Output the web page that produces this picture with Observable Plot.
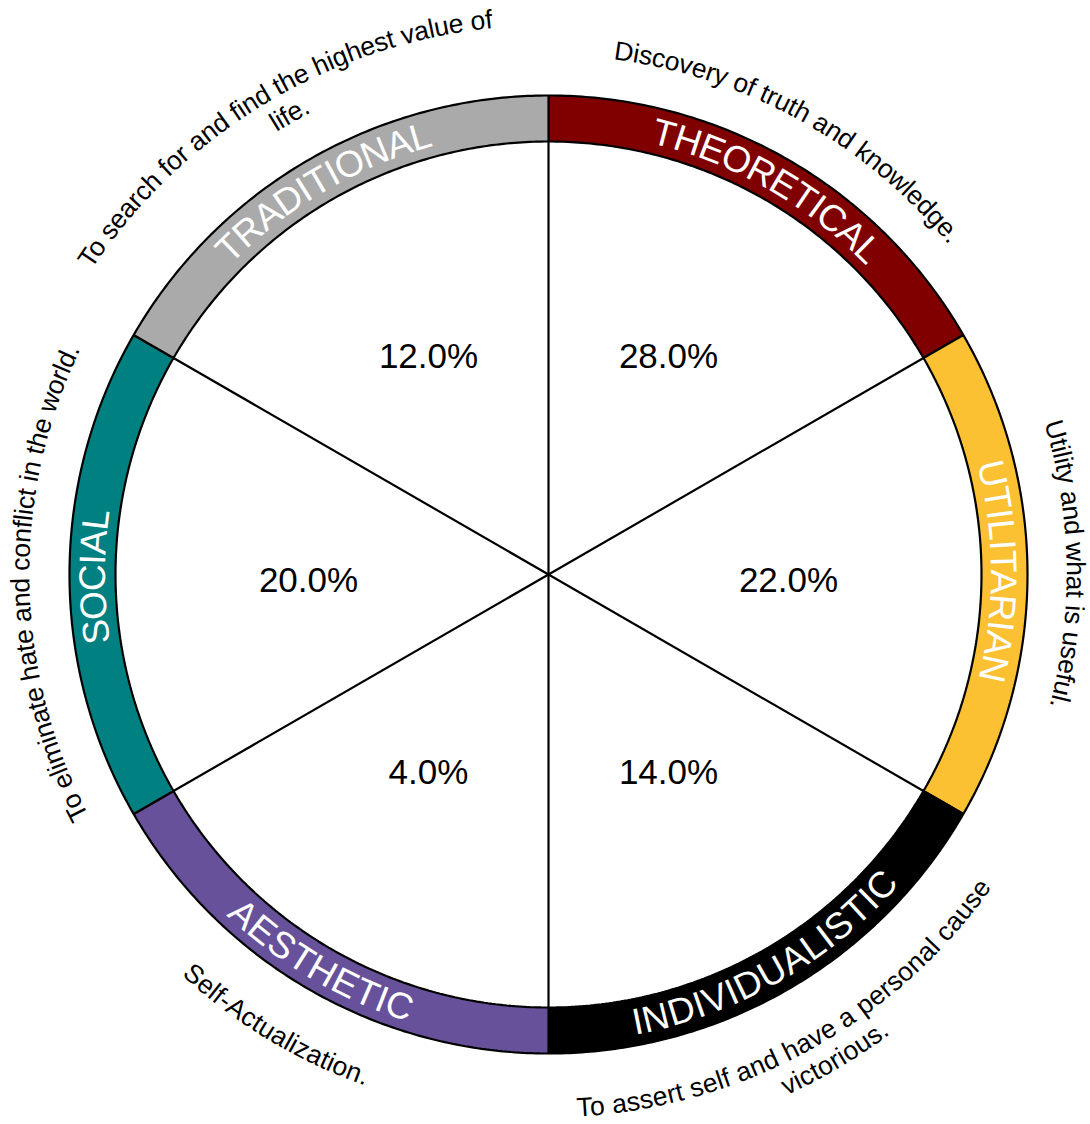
<!DOCTYPE html>
<html>
<head>
<meta charset="utf-8">
<script src="https://cdn.jsdelivr.net/npm/d3@7"></script>
<script src="https://cdn.jsdelivr.net/npm/@observablehq/plot@0.6"></script>
<style>
  body { margin: 0; background: #ffffff; }
  #chart svg { display: block; }
</style>
</head>
<body>
<div id="chart"></div>
<script>
// ---- data ----
const categories = ["THEORETICAL", "UTILITARIAN", "INDIVIDUALISTIC", "AESTHETIC", "SOCIAL", "TRADITIONAL"];
const percents = [28.0, 22.0, 14.0, 4.0, 20.0, 12.0];
const colors = ["#800000", "#fbc133", "#000000", "#67519a", "#008080", "#aaaaaa"];
const descriptions = [
  ["Discovery of truth and knowledge."],
  ["Utility and what is useful."],
  ["To assert self and have a personal cause", "victorious."],
  ["Self-Actualization."],
  ["To eliminate hate and conflict in the world."],
  ["To search for and find the highest value of", "life."]
];

// ---- geometry (layout constants) ----
const R_OUT = 479, R_IN = 433, R_LABEL = 456, R_PCT = 240;
const R_DESC_OUT = 528, R_DESC_IN = 534, LINE = 30;
const step = 360 / categories.length;
const rad = a => a * Math.PI / 180;
const px = (r, a) => r * Math.sin(rad(a));
const py = (r, a) => -r * Math.cos(rad(a));

// ring band polygons
const ringPts = [];
categories.forEach((c, i) => {
  const a0 = i * step, a1 = a0 + step;
  for (let a = a0; a <= a1 + 1e-9; a += 0.5) ringPts.push({cat: c, x: px(R_OUT, a), y: py(R_OUT, a)});
  for (let a = a1; a >= a0 - 1e-9; a -= 0.5) ringPts.push({cat: c, x: px(R_IN, a), y: py(R_IN, a)});
  ringPts.push({cat: c, x: px(R_OUT, a0), y: py(R_OUT, a0)});
});

const pctData = categories.map((c, i) => ({cat: c, value: percents[i], mid: i * step + step / 2}));

// curved text items
const curved = [];
categories.forEach((c, i) => {
  const mid = i * step + step / 2;
  curved.push({text: c, angle: mid, r: R_LABEL, size: 37, fill: "#ffffff", back: 3});
  const lines = descriptions[i];
  const flip = mid > 90 && mid < 270;
  lines.forEach((t, j) => {
    const r = flip ? R_DESC_IN + j * LINE : R_DESC_OUT + (lines.length - 1 - j) * LINE;
    curved.push({text: t, angle: mid, r, size: 26.5, fill: "#000000", back: j === 0 ? 10 : -6});
  });
});

function curvedText(items) {
  return (index, scales, values, dimensions, context) => {
    const doc = (context && context.document) || document;
    const ns = "http://www.w3.org/2000/svg";
    const g = doc.createElementNS(ns, "g");
    const cx = scales.x(0), cy = scales.y(0);
    const k = scales.x(1) - scales.x(0);
    items.forEach((it, j) => {
      const r = it.r * k;
      const mid = it.angle;
      const flip = mid > 90 && mid < 270;
      const span = 85;
      const a0 = flip ? mid + span : mid - span;
      const a1 = flip ? mid - span : mid + span;
      const x0 = cx + r * Math.sin(rad(a0)), y0 = cy - r * Math.cos(rad(a0));
      const x1 = cx + r * Math.sin(rad(a1)), y1 = cy - r * Math.cos(rad(a1));
      const half = r * rad(span);
      const id = "curve-path-" + j;
      const path = doc.createElementNS(ns, "path");
      path.setAttribute("id", id);
      path.setAttribute("d", `M${x0},${y0}A${r},${r} 0 0 ${flip ? 0 : 1} ${x1},${y1}`);
      path.setAttribute("fill", "none");
      path.setAttribute("stroke", "none");
      g.appendChild(path);
      const text = doc.createElementNS(ns, "text");
      text.setAttribute("font-size", it.size);
      text.setAttribute("fill", it.fill);
      text.setAttribute("dy", "0.35em");
      const tp = doc.createElementNS(ns, "textPath");
      tp.setAttribute("href", "#" + id);
      tp.setAttribute("startOffset", String(half - it.back));
      tp.setAttribute("text-anchor", "middle");
      tp.textContent = it.text;
      text.appendChild(tp);
      g.appendChild(text);
    });
    return g;
  };
}

const isSide = d => d.mid === 90 || d.mid === 270;

const chart = Plot.plot({
  width: 1090,
  height: 1124,
  margin: 0,
  x: {domain: [-548, 542], range: [0, 1090], axis: null},
  y: {domain: [-574, 550], range: [0, 1124], axis: null},
  color: {domain: categories, range: colors},
  style: {fontFamily: "'Liberation Sans', Arial, sans-serif", background: "#ffffff", overflow: "visible"},
  marks: [
    Plot.line(ringPts, {x: "x", y: "y", z: "cat", fill: "cat", stroke: "#000000", strokeWidth: 2.2, strokeLinejoin: "miter", strokeLinecap: "butt"}),
    Plot.link(categories, {
      x1: () => 0, y1: () => 0,
      x2: (d, i) => px(R_IN, i * step), y2: (d, i) => py(R_IN, i * step),
      stroke: "#000000", strokeWidth: 2.2
    }),
    Plot.text(pctData.filter(d => !isSide(d)), {
      x: d => px(R_PCT, d.mid), y: d => py(R_PCT, d.mid),
      text: d => d.value.toFixed(1) + "%", fontSize: 35, fill: "#000000", dy: -10
    }),
    Plot.text(pctData.filter(isSide), {
      x: d => px(R_PCT, d.mid), y: d => py(R_PCT, d.mid),
      text: d => d.value.toFixed(1) + "%", fontSize: 35, fill: "#000000", dy: 6
    }),
    curvedText(curved)
  ]
});
document.getElementById("chart").appendChild(chart);
</script>
</body>
</html>
